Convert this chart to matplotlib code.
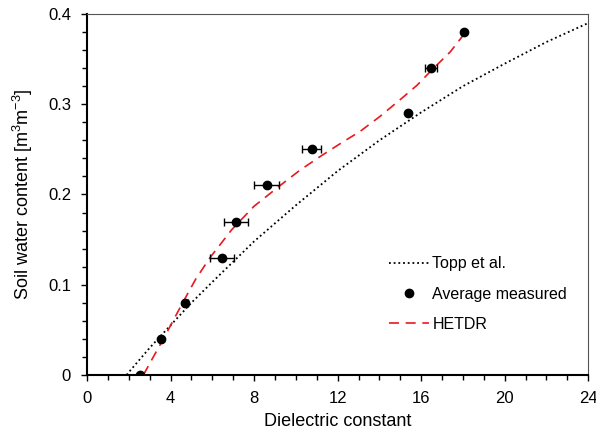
import matplotlib
matplotlib.use("Agg")
import matplotlib.pyplot as plt
from matplotlib.lines import Line2D
from matplotlib.ticker import MultipleLocator, FuncFormatter

plt.rcParams["font.family"] = ["Liberation Sans", "DejaVu Sans"]
plt.rcParams["mathtext.fontset"] = "custom"
plt.rcParams["mathtext.rm"] = "Liberation Sans"
plt.rcParams["mathtext.default"] = "regular"

# measured averages (dielectric constant, water content, x error)
meas_eps = [2.54, 3.53, 4.71, 6.47, 7.14, 8.60, 10.76, 15.38, 16.48, 18.07]
meas_theta = [0.0, 0.04, 0.08, 0.13, 0.17, 0.21, 0.25, 0.29, 0.34, 0.38]
meas_err = [0.0, 0.08, 0.12, 0.56, 0.57, 0.60, 0.45, 0.0, 0.30, 0.0]

# Topp et al. curve
topp_eps = [1.9, 2, 3, 4, 5, 6, 8, 10, 12, 14, 16, 18, 20, 22, 24]
topp_theta = [0.0, 0.003, 0.030, 0.055, 0.080, 0.103, 0.148, 0.188, 0.226,
              0.260, 0.291, 0.320, 0.345, 0.369, 0.390]

# HETDR fitted curve
hetdr_eps = [2.7, 3.2, 3.66, 4.58, 5.2, 5.89, 6.93, 8.0, 9.25, 10.2, 11.16,
             12.1, 13.08, 14.0, 14.99, 15.8, 16.51, 17.39, 18.1]
hetdr_theta = [0.0, 0.021, 0.040, 0.080, 0.106, 0.130, 0.161, 0.187, 0.210,
               0.227, 0.242, 0.256, 0.270, 0.286, 0.305, 0.321, 0.338, 0.358, 0.379]

RED = "#e8191f"

fig = plt.figure(figsize=(5.96, 4.38), dpi=100)
ax = fig.add_axes([0.146, 0.144, 0.841, 0.824])

ax.plot(topp_eps, topp_theta, color="black", linestyle=(0, (1, 1.6)),
        linewidth=1.3)
ax.errorbar(meas_eps, meas_theta, xerr=meas_err, fmt="o", color="black",
            markersize=6, capsize=3, elinewidth=1, capthick=1, zorder=3)
ax.plot(hetdr_eps, hetdr_theta, color=RED, linestyle=(0, (6, 4)),
        linewidth=1.2)

ax.set_xlim(0, 24)
ax.set_ylim(0, 0.4)
ax.xaxis.set_major_locator(MultipleLocator(4))
ax.xaxis.set_minor_locator(MultipleLocator(1))
ax.yaxis.set_major_locator(MultipleLocator(0.1))
ax.yaxis.set_minor_locator(MultipleLocator(0.02))
ax.yaxis.set_major_formatter(FuncFormatter(lambda v, p: "0" if abs(v) < 1e-9 else f"{v:.1f}"))
ax.tick_params(which="both", direction="out", labelsize=12, color="black")
ax.tick_params(which="major", length=4.5, width=1)
ax.tick_params(which="minor", length=3.5, width=1)
ax.tick_params(axis="x", pad=7)
ax.tick_params(axis="y", pad=7)

for side in ["left", "bottom"]:
    ax.spines[side].set_linewidth(1.5)
for side in ["top", "right"]:
    ax.spines[side].set_linewidth(0.8)
    ax.spines[side].set_color("#555555")

ax.set_xlabel("Dielectric constant", fontsize=13, labelpad=5)
ax.set_ylabel("Soil water content [m$^{3}$m$^{-3}$]", fontsize=13, labelpad=9)

handles = [
    Line2D([], [], color="black", linestyle=(0, (1, 1.6)), linewidth=1.3),
    Line2D([], [], color="black", marker="o", markersize=6, linestyle="none"),
    Line2D([], [], color=RED, linestyle=(0, (6, 4)), linewidth=1.2),
]
labels = ["Topp et al.", "Average measured", "HETDR"]
ax.legend(handles, labels, loc="upper left", bbox_to_anchor=(0.59, 0.346),
          frameon=False, fontsize=11.5, handlelength=2.5, handletextpad=0.2,
          labelspacing=0.95, borderaxespad=0)

fig.savefig("out.png", dpi=100)
